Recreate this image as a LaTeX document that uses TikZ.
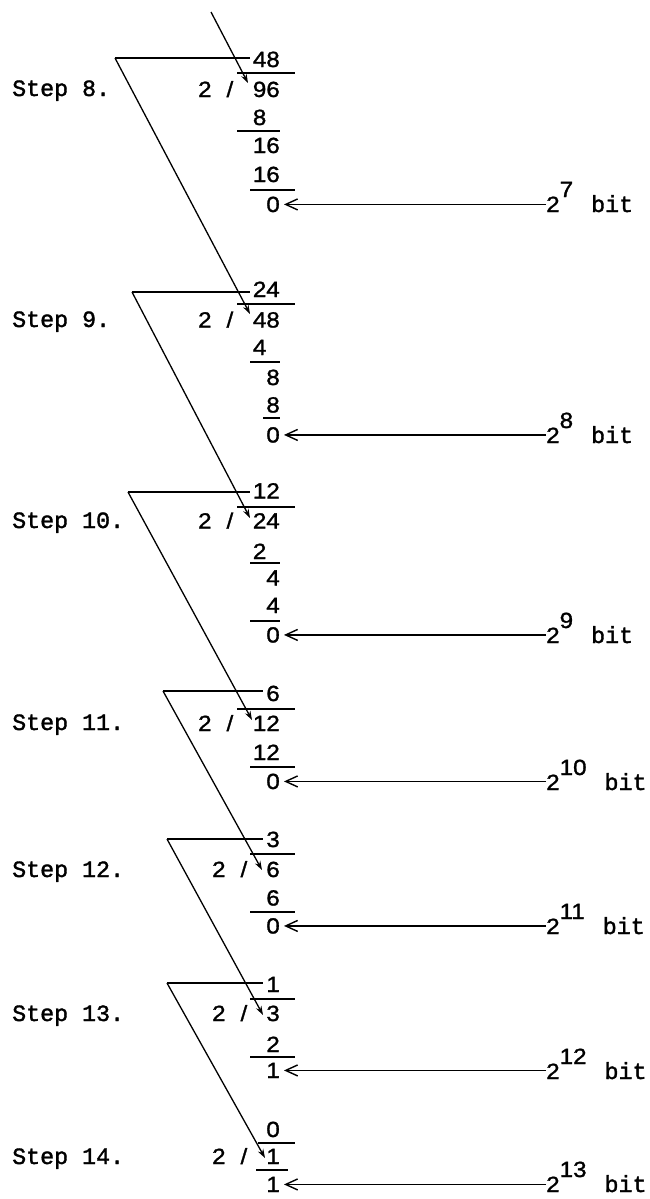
\documentclass[tikz,border=0pt]{standalone}
\usepackage{fontspec}
\usetikzlibrary{arrows.meta}
\newfontfamily\digfont[FakeStretch=1.1,FakeBold=1.3]{Liberation Sans}
\newfontfamily\twfont[FakeBold=1.6]{Liberation Mono}
\newcommand{\bitlabel}[1]{2\raisebox{15pt}{#1}\hspace{18pt}{\twfont\fontsize{23.3}{23.3}\selectfont bit}}
\tikzset{
 num/.style={anchor=base east, inner sep=0pt, font=\digfont\fontsize{22}{22}\selectfont},
 steplbl/.style={anchor=base west, inner sep=0pt, font=\twfont\fontsize{23.3}{23.3}\selectfont},
 bitlbl/.style={anchor=base west, inner sep=0pt, font=\digfont\fontsize{22}{22}\selectfont},
 rulel/.style={line width=1.6pt},
 diag/.style={line width=1.3pt, -{Stealth[length=9pt,width=6pt]}},
 bitarrow/.style={line width=1.4pt, -{Straight Barb[length=12pt,width=11pt,line width=1.4pt]}, shorten >=4pt},
}
\begin{document}
\begin{tikzpicture}[x=1pt,y=-1pt]
\fill[white] (0,0) rectangle (649,1199);
\useasboundingbox (0,0) rectangle (649,1199);

% ---------- Step 8
\node[steplbl] (S8) at (12,96) {Step 8.};
\coordinate (top) at (211,12);
\coordinate (t8) at (248,83);
\coordinate (c8) at (115,58);
\node[num] (q8) at (280,67) {48};
\node[num] (d8) at (280,97) {96};
\node[num] (s8) at (233.5,97) {2\hspace{15pt}/};
\node[num] (a8) at (280,125) {8\phantom{0}};
\node[num] (b8) at (280,153) {16};
\node[num] (e8) at (280,182) {16};
\node[num] (r8) at (280,212) {0};
\node[bitlbl] (L8) at (546,212) {\bitlabel{7}};
\draw[rulel] (237,73) -- (295,73);
\draw[rulel] (237,131) -- (280,131);
\draw[rulel] (250,190) -- (295,190);
\draw[rulel, shorten >=3pt] (c8) -- (c8 -| q8.west);
\draw[diag] (top) -- (t8);
\draw[bitarrow] (L8.west |- r8.east) -- (r8.east);

% ---------- Step 9
\node[steplbl] (S9) at (12,327) {Step 9.};
\coordinate (t9) at (250,314);
\coordinate (c9) at (132,292);
\node[num] (q9) at (280,297) {24};
\node[num] (d9) at (280,327.5) {48};
\node[num] (s9) at (233.5,327.5) {2\hspace{15pt}/};
\node[num] (a9) at (280,355) {4\phantom{0}};
\node[num] (b9) at (280,385) {8};
\node[num] (e9) at (280,412.5) {8};
\node[num] (r9) at (280,442.5) {0};
\node[bitlbl] (L9) at (546,443) {\bitlabel{8}};
\draw[rulel] (237,304) -- (295,304);
\draw[rulel] (250,362) -- (280,362);
\draw[rulel] (263,418) -- (280,418);
\draw[rulel, shorten >=3pt] (c9) -- (c9 -| q9.west);
\draw[diag] (c8) -- (t9);
\draw[bitarrow] (L9.west |- r9.east) -- (r9.east);

% ---------- Step 10
\node[steplbl] (S10) at (12,528) {Step 10.};
\coordinate (t10) at (250,518);
\coordinate (c10) at (128,492);
\node[num] (q10) at (280,498.5) {12};
\node[num] (d10) at (280,528.5) {24};
\node[num] (s10) at (233.5,528.5) {2\hspace{15pt}/};
\node[num] (a10) at (280,559) {2\phantom{0}};
\node[num] (b10) at (280,585.5) {4};
\node[num] (e10) at (280,613) {4};
\node[num] (r10) at (280,642.5) {0};
\node[bitlbl] (L10) at (546,643) {\bitlabel{9}};
\draw[rulel] (237,507) -- (295,507);
\draw[rulel] (250,563) -- (280,563);
\draw[rulel] (250,621) -- (280,621);
\draw[rulel, shorten >=3pt] (c10) -- (c10 -| q10.west);
\draw[diag] (c9) -- (t10);
\draw[bitarrow] (L10.west |- r10.east) -- (r10.east);

% ---------- Step 11
\node[steplbl] (S11) at (12,730) {Step 11.};
\coordinate (t11) at (252,720);
\coordinate (c11) at (163,691);
\node[num] (q11) at (280,701) {6};
\node[num] (d11) at (280,731) {12};
\node[num] (s11) at (233.5,731) {2\hspace{15pt}/};
\node[num] (b11) at (280,760) {12};
\node[num] (r11) at (280,789) {0};
\node[bitlbl] (L11) at (546,790) {\bitlabel{10}};
\draw[rulel] (237,709) -- (295,709);
\draw[rulel] (250,767) -- (295,767);
\draw[rulel, shorten >=3pt] (c11) -- (c11 -| q11.west);
\draw[diag] (c10) -- (t11);
\draw[bitarrow] (L11.west |- r11.east) -- (r11.east);

% ---------- Step 12
\node[steplbl] (S12) at (12,877) {Step 12.};
\coordinate (t12) at (262,870);
\coordinate (c12) at (167,839);
\node[num] (q12) at (280,847) {3};
\node[num] (d12) at (280,877) {6};
\node[num] (s12) at (247.5,877) {2\hspace{15pt}/};
\node[num] (b12) at (280,905.5) {6};
\node[num] (r12) at (280,933.5) {0};
\node[bitlbl] (L12) at (546,934) {\bitlabel{11}};
\draw[rulel] (250,854) -- (295,854);
\draw[rulel] (250,912) -- (295,912);
\draw[rulel, shorten >=3pt] (c12) -- (c12 -| q12.west);
\draw[diag] (c11) -- (t12);
\draw[bitarrow] (L12.west |- r12.east) -- (r12.east);

% ---------- Step 13
\node[steplbl] (S13) at (12,1021) {Step 13.};
\coordinate (t13) at (263,1015);
\coordinate (c13) at (167,983);
\node[num] (q13) at (280,992) {1};
\node[num] (d13) at (280,1021) {3};
\node[num] (s13) at (247.5,1021) {2\hspace{15pt}/};
\node[num] (b13) at (280,1052) {2};
\node[num] (r13) at (280,1078) {1};
\node[bitlbl] (L13) at (546,1079) {\bitlabel{12}};
\draw[rulel] (250,999) -- (295,999);
\draw[rulel] (250,1057) -- (295,1057);
\draw[rulel, shorten >=3pt] (c13) -- (c13 -| q13.west);
\draw[diag] (c12) -- (t13);
\draw[bitarrow] (L13.west |- r13.east) -- (r13.east);

% ---------- Step 14
\node[steplbl] (S14) at (12,1164) {Step 14.};
\coordinate (t14) at (265,1158);
\node[num] (q14) at (280,1137) {0};
\node[num] (d14) at (280,1164) {1};
\node[num] (s14) at (247.5,1164) {2\hspace{15pt}/};
\node[num] (r14) at (280,1192) {1};
\node[bitlbl] (L14) at (546,1192) {\bitlabel{13}};
\draw[rulel] (258,1143) -- (295,1143);
\draw[rulel] (256,1170) -- (288,1170);
\draw[diag] (c13) -- (t14);
\draw[bitarrow] (L14.west |- r14.east) -- (r14.east);
\end{tikzpicture}
\end{document}
